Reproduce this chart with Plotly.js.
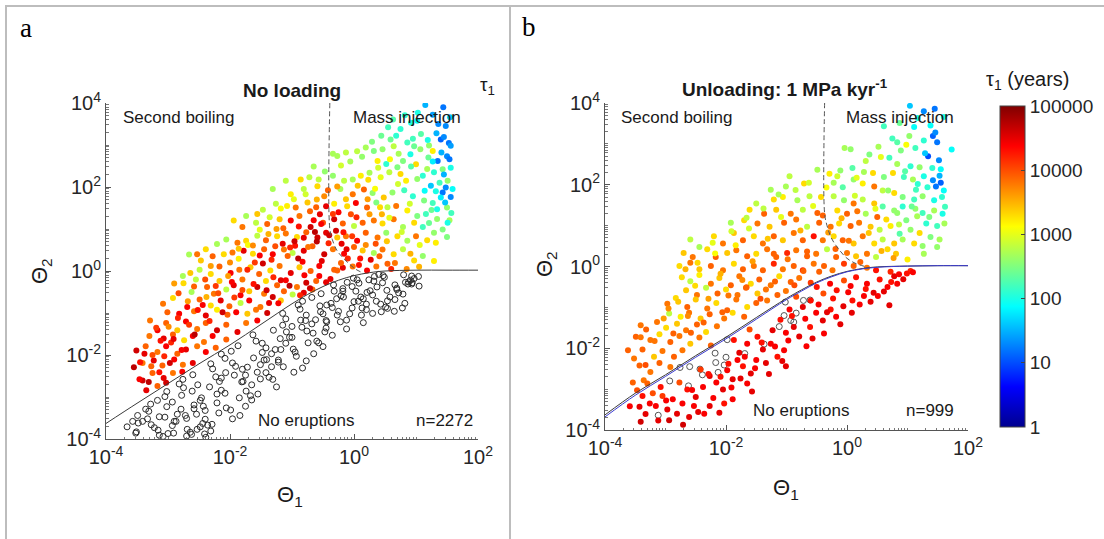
<!DOCTYPE html>
<html><head><meta charset="utf-8">
<script src="https://cdn.plot.ly/plotly-3.0.1.min.js"></script>
<style>html,body{margin:0;padding:0;background:#fff;}#chart{width:1104px;height:539px;}</style>
</head><body><div id="chart"></div>
<script>
// ---- DATA (log10 values) ----
// Panel a: erupting runs (coloured by log10 tau1)
const aLogTheta1 = [1.15,1.44,1.36,1.55,1.03,0.92,0.55,0.75,1.08,1.40,1.53,1.45,0.68,0.59,0.86,1.21,1.27,1.50,1.35,1.54,1.07,0.91,0.79,0.64,0.46,0.32,0.19,0.05,-0.13,-0.27,-0.34,0.38,0.52,0.70,1.00,1.18,1.29,1.43,1.56,1.51,1.38,1.48,1.43,1.56,1.59,1.32,1.24,1.14,1.02,0.84,0.75,0.57,0.43,0.25,0.11,-0.02,-0.16,-0.34,-0.65,-0.72,-0.86,-1.10,-1.31,-1.02,-0.81,-0.59,-0.42,-0.22,-0.02,0.16,0.30,0.48,0.62,0.81,0.95,1.13,1.27,1.50,1.57,1.54,1.51,1.34,1.16,1.02,0.86,0.68,0.54,0.36,0.21,0.03,-0.11,-0.32,-0.45,-0.61,-0.75,-0.94,-1.08,-1.26,-1.47,-1.56,-1.74,-1.94,-1.80,-1.58,-1.40,-1.20,-1.02,-0.88,-0.65,-0.50,-0.32,-0.18,0.00,0.14,0.32,0.46,0.64,0.79,0.97,1.11,1.29,1.43,1.50,1.32,1.18,1.00,0.86,0.70,0.52,0.38,0.19,0.05,-0.13,-0.27,-0.45,-0.59,-0.77,-0.92,-1.10,-1.24,-1.42,-1.56,-1.74,-1.88,-2.06,-2.21,-2.39,-2.53,-2.66,-2.47,-2.28,-2.10,-1.96,-1.78,-1.63,-1.45,-1.31,-1.13,-0.99,-0.81,-0.67,-0.48,-0.34,-0.16,0.00,0.14,0.32,0.46,0.64,0.79,0.97,1.11,1.29,0.54,0.36,0.21,-0.02,-0.18,-0.32,-0.56,-0.70,-0.88,-1.02,-1.20,-1.35,-1.53,-1.67,-1.85,-1.99,-2.17,-2.31,-2.49,-2.64,-2.76,
-2.75,-2.55,-2.37,-2.17,-1.94,-1.80,-1.56,-1.42,-1.24,-1.10,-0.92,-0.77,-0.61,-0.45,-2.62,-2.26,-2.06,-1.83,-1.69,-1.45,-1.31,-1.13,-0.99,-0.81,-0.67,-3.08,-2.92,-2.69,-2.49,-2.31,-2.15,-2.01,-1.83,-1.69,-1.51,-1.37,-1.18,-3.01,-2.82,-2.58,-2.39,-2.21,-2.04,-1.90,-1.72,-1.58,-1.40,-3.29,-3.17,-3.03,-2.85,-2.71,-2.53,-2.39,-2.21,-2.06,-1.88,-1.74,-1.56,-3.30,-3.07,-2.92,-2.74,-2.60,-2.42,-2.28,-2.06,-3.51,-3.36,-3.17,-3.03,-2.85,-2.71,-2.53,-2.39,-2.23,-3.55,-3.41,-3.23,-3.09,-2.90,-2.76,-2.60,-3.41,-3.25,-3.07,-2.92,-2.77,-3.35,-3.17,-3.03,
-0.90,-0.60,-0.40,-0.55,-0.25,-0.70,-1.15,-0.95,-0.20,-0.10,0.10,0.35,0.60,0.85,1.05,0.25,0.90,1.25,1.40,1.45,1.20,0.95,-1.60,-2.00,-2.40,-2.90,-1.30,-0.80,-1.80,-2.95,-3.25,-1.25,-0.05,0.45,-0.60,
-1.47,-1.33,-1.18,-1.07,-0.96,-0.83,-0.74,-0.63,-0.52,-0.41,-0.29,-0.21,-0.12,-0.03,0.08,0.19,0.27,0.41,0.53,0.66,-1.62,-1.41,-1.22,-1.04,-0.87,-0.71,-0.56,-0.38,-0.27,-1.93,-2.12,-2.33,-2.57,-2.78,-2.97,-3.14,-3.31,-3.46,-3.27,-3.12,-2.99,-2.84,-2.68,-2.52,-2.38,-2.23,-2.03,-1.86,-1.71,-1.52,-1.36,-1.18,-0.97,-0.78,-0.57,-0.47,-0.21,-0.06,0.13,0.29,0.44,0.63,0.82,1.02,1.27,1.48,1.33,1.19,0.97,0.72,0.58,0.39,0.23,0.06,-0.27,-0.48,-0.71,-0.89,-1.14,-1.38,-1.63,-1.86,-2.31,-2.58,-2.83,-3.19,-3.38,-0.13,0.34,0.71,0.92,1.11,1.27,1.41,1.56,1.47,1.34,1.21,1.06,0.91,0.77,0.57,0.42,0.22,0.04,-0.17,-0.34,-0.53,-0.81,-1.03,-1.27,-1.52,-1.72,-1.97,-2.19,-2.44,-2.66,-2.91,-3.06,-3.45];
const aLogTheta2 = [3.95,3.90,3.50,3.66,3.77,3.53,3.42,3.38,3.26,3.13,3.05,3.19,3.22,3.13,3.06,2.99,2.86,2.73,2.62,2.66,2.90,2.78,2.62,2.97,2.90,2.86,2.94,2.85,2.82,2.74,2.79,2.62,2.55,2.47,2.54,2.43,2.35,2.42,2.46,2.15,2.10,1.99,1.87,1.76,1.95,1.90,2.03,1.91,2.19,2.15,2.31,2.35,2.23,2.34,2.27,2.18,2.15,2.27,2.49,2.23,2.18,2.15,1.95,1.83,1.95,2.02,1.92,1.95,1.83,1.94,1.86,1.75,1.87,1.92,1.78,1.68,1.62,1.51,1.38,1.21,1.15,1.24,1.36,1.31,1.44,1.55,1.52,1.63,1.51,1.62,1.54,1.60,1.54,1.52,1.63,1.51,1.55,1.60,1.46,1.36,1.31,1.20,1.05,1.15,1.12,1.23,1.20,1.31,1.21,1.15,1.23,1.13,1.07,1.15,1.20,1.13,1.23,1.05,1.15,1.05,0.91,0.99,0.81,0.67,0.73,0.83,0.72,0.83,0.91,0.80,0.91,0.72,0.83,0.80,0.91,0.80,0.92,0.81,0.89,0.83,0.73,0.84,0.72,0.67,0.75,0.64,0.52,0.40,0.39,0.25,0.35,0.40,0.44,0.48,0.41,0.52,0.40,0.51,0.43,0.48,0.59,0.40,0.52,0.41,0.57,0.49,0.43,0.51,0.40,0.52,0.25,0.36,0.24,0.17,0.11,0.01,0.11,0.08,0.03,0.12,0.00,0.09,-0.05,0.12,0.01,-0.07,0.09,0.03,-0.05,0.11,-0.07,0.03,-0.05,-0.12,
-0.29,-0.20,-0.38,-0.24,-0.34,-0.20,-0.38,-0.24,-0.34,-0.22,-0.38,-0.28,-0.24,-0.27,-0.50,-0.54,-0.44,-0.58,-0.48,-0.54,-0.62,-0.48,-0.56,-0.52,-0.44,-0.78,-0.64,-0.86,-0.68,-0.82,-0.70,-0.84,-0.76,-0.70,-0.86,-0.76,-0.70,-0.98,-1.02,-0.96,-1.06,-0.92,-1.04,-0.98,-1.02,-0.92,-1.00,-1.18,-1.41,-1.24,-1.41,-1.20,-1.38,-1.24,-1.41,-1.28,-1.45,-1.24,-1.18,-1.55,-1.61,-1.51,-1.65,-1.55,-1.69,-1.55,-1.63,-1.89,-1.79,-1.93,-1.79,-1.97,-1.87,-1.79,-1.93,-1.83,-2.29,-2.19,-2.13,-2.25,-2.11,-2.23,-2.19,-2.61,-2.43,-2.55,-2.43,-2.40,-2.84,-2.74,-2.66,
0.30,0.70,0.85,1.35,1.40,1.05,0.65,0.60,0.65,0.30,0.30,0.65,0.05,0.05,0.10,1.35,1.60,1.45,1.75,2.30,2.70,3.15,0.20,0.20,-0.20,-0.30,-0.15,-0.10,-0.45,-1.70,-2.00,1.00,1.35,1.35,1.70,
0.18,0.27,-0.22,0.36,0.71,0.22,0.57,0.93,0.24,0.66,0.96,0.19,0.52,0.83,0.14,0.62,0.27,0.35,0.71,0.19,-0.31,-0.46,-0.77,-0.35,-0.58,-0.41,-0.12,-0.19,0.01,-0.63,-0.98,-1.19,-1.51,-1.88,-2.19,-2.41,-2.64,-2.58,-2.27,-1.66,-1.33,-1.12,-0.72,-0.93,-0.62,-0.36,-0.12,0.29,0.62,0.98,1.28,1.49,1.71,1.83,2.18,2.37,2.51,2.61,2.72,3.08,3.22,3.61,3.71,3.58,3.72,3.45,3.28,3.12,2.97,2.79,2.66,2.46,2.17,2.03,2.01,1.78,1.42,1.06,1.02,0.88,0.61,0.53,0.12,-0.37,-0.53,-1.35,-1.97,1.71,1.96,2.07,2.49,2.27,2.61,2.82,2.98,1.63,1.47,1.14,0.62,0.41,0.93,1.27,1.52,1.71,1.28,0.92,1.36,1.12,0.79,0.56,0.59,0.37,0.03,-0.26,-0.53,-0.81,-1.28,-1.62,-2.03,-2.17];
const aLogTau = [1.5,1.2,1.3,1.6,2.0,2.0,2.2,2.1,2.3,1.1,1.2,1.3,2.1,2.4,2.2,2.6,3.2,1.3,1.2,1.2,2.6,2.0,2.5,2.8,2.6,2.5,2.7,2.8,2.8,2.7,2.7,3.2,2.1,2.5,3.3,2.7,2.1,2.5,2.0,2.6,2.2,1.3,1.2,1.3,1.9,2.0,1.6,1.9,2.6,3.2,3.3,2.8,3.0,2.7,3.2,2.7,2.8,2.6,2.7,2.8,3.3,2.8,2.7,3.2,2.8,3.3,3.9,2.7,3.8,3.9,2.6,3.4,2.6,2.2,2.1,2.5,2.2,2.6,2.2,2.7,2.0,2.6,2.2,2.5,3.2,3.8,2.8,2.5,3.9,4.4,3.3,3.2,4.5,3.9,3.4,3.8,3.2,2.8,2.8,3.4,2.7,3.3,3.8,2.8,3.9,3.4,4.4,3.8,4.4,4.0,4.6,3.9,2.8,3.9,3.8,3.3,3.8,2.7,3.3,2.2,2.6,2.5,2.5,3.2,3.3,3.8,2.7,3.3,2.6,3.8,3.9,4.4,3.8,3.4,4.5,4.6,3.9,3.3,3.8,3.3,3.9,2.8,3.3,3.8,2.7,2.7,3.3,3.8,2.7,3.4,3.9,3.3,3.8,4.5,3.3,3.9,4.4,3.8,2.8,4.5,3.9,4.6,3.8,4.4,3.9,3.4,2.7,3.8,3.3,2.8,3.3,2.6,3.2,3.9,3.8,4.4,3.8,4.5,3.9,4.4,3.9,3.4,4.5,3.8,3.3,3.9,3.4,3.8,4.4,3.9,3.3,2.8,3.4,2.7,
3.3,2.8,3.9,3.4,4.5,3.8,4.6,3.3,3.9,4.4,3.8,4.6,3.9,4.5,2.7,3.8,2.8,4.4,3.4,3.8,4.6,3.9,2.8,4.5,3.9,3.8,3.3,4.4,3.9,3.3,4.5,3.9,2.8,4.4,3.8,4.5,3.4,3.9,4.4,3.8,4.5,3.2,3.9,4.4,3.4,3.8,4.6,3.8,4.4,3.9,3.4,4.4,3.8,3.9,4.6,3.9,4.5,3.8,4.4,3.8,4.5,3.9,3.3,4.4,3.8,4.4,3.9,4.6,3.9,3.8,4.4,3.9,4.5,3.8,4.4,3.9,4.7,3.8,4.5,3.9,4.4,3.8,4.5,4.6,3.9,4.5,3.8,4.4,4.5,3.9,4.6,
4.7,4.7,4.6,4.5,4.4,4.6,4.5,4.3,4.5,4.2,4.3,4.0,4.2,3.7,3.5,3.6,2.9,2.4,1.8,1.5,2.4,2.2,4.1,3.7,4.0,3.6,4.2,4.4,4.0,4.2,4.0,3.6,4.0,3.5,3.5,
4.6,4.2,4.5,3.9,4.6,4.4,3.8,4.7,4.5,4.2,4.6,3.9,4.5,4.1,4.3,3.7,4.5,3.9,3.4,3.8,4.3,4.6,4.4,4.7,4.2,4.6,4.4,4.5,3.9,4.1,4.6,4.2,4.7,4.4,4.6,4.3,4.7,4.4,3.9,4.3,3.7,4.2,3.6,4.3,3.5,4.1,3.6,3.2,3.1,3.0,2.9,3.1,3.0,2.9,2.8,2.6,2.9,2.7,2.6,2.5,2.4,2.3,2.1,1.9,1.4,1.3,1.5,2.0,2.4,2.7,3.1,2.9,3.3,3.4,3.6,3.7,3.9,4.3,3.9,3.5,3.7,3.4,3.6,3.9,4.0,4.1,4.5,3.4,3.1,2.9,2.3,2.1,1.8,1.5,1.4,1.6,2.0,2.4,3.0,3.5,2.9,3.0,3.3,3.6,4.2,4.3,4.1,4.4,4.5,4.2,4.0,4.4,4.2,4.4,4.0,4.4,4.1,4.5,4.2,4.3];
// Panel a: runs with no eruption (open circles)
const aLogTheta1None = [-3.57,-3.66,-3.49,-3.36,-3.48,-3.51,-3.28,-3.33,-3.14,-3.31,-3.17,-3.27,-3.14,-3.05,-3.16,-3.02,-2.90,-3.02,-3.08,-2.85,
-2.93,-2.75,-2.93,-2.79,-2.91,-2.78,-2.70,-2.82,-2.69,-2.58,-2.70,-2.76,-2.54,-2.61,-2.44,-2.62,-2.48,-2.60,-2.48,-2.40,
-2.52,-2.39,-2.28,-2.40,-2.46,-2.23,-2.31,-2.14,-2.31,-2.18,-2.29,-2.17,-2.08,-2.21,-2.07,-1.96,-2.08,-2.14,-1.91,-1.99,
-1.81,-1.98,-1.85,-1.96,-1.84,-1.75,-1.87,-1.74,-1.62,-1.75,-1.80,-1.58,-1.65,-1.48,-1.65,-1.51,-1.63,-1.51,-1.42,-1.55,
-1.41,-1.30,-1.42,-1.48,-1.25,-1.33,-1.15,-1.33,-1.19,-1.31,-1.18,-1.10,-1.22,-1.09,-0.97,-1.10,-1.15,-0.93,-1.00,-0.83,
-1.00,-0.87,-0.98,-0.86,-0.77,-0.90,-0.76,-0.65,-0.77,-0.83,-0.60,-0.68,-0.50,-0.68,-0.54,-0.66,-0.53,-0.45,-0.57,-0.44,
-0.32,-0.45,-0.50,-0.28,-0.35,-0.18,-0.35,-0.22,-0.33,-0.21,-0.12,-0.25,-0.11,0.00,-0.12,-0.18,0.05,-0.03,0.15,-0.03,
0.11,-0.01,0.12,0.20,0.08,0.21,0.33,0.20,0.15,0.37,0.30,0.47,0.30,0.43,0.32,0.44,0.53,0.40,0.54,0.66,
0.54,0.49,0.72,0.65,0.83,0.66,0.80,0.69,0.82,0.91,0.79,0.93,1.05,0.93,0.88,1.04,0.94,-2.53,-2.64,-2.41,
-3.52,-3.41,-3.22,-3.05,-2.87,-2.72,-2.58,-2.43,-2.33,-2.21,-2.06,-1.93,-1.79,-1.67,-1.56,-1.45,-1.37,-1.27,-1.14,-1.04,-0.95,-0.84,-0.74,-0.62,-0.55,-0.44,-0.37,-0.27,-0.17,-0.07,0.03,0.13,0.26,0.36,0.46,0.58,0.69,0.78,0.87,0.97,
-3.00,-2.36,-2.14,-1.72,-1.22,-0.78,-0.47,0.07,0.51,0.24];
const aLogTheta2None = [-3.58,-3.71,-3.44,-3.29,-3.62,-3.83,-3.17,-3.52,-3.91,-3.34,-3.08,-3.66,-3.47,-2.99,-3.79,-3.23,-3.58,-2.87,-3.94,-3.41,
-3.12,-2.78,-3.68,-3.29,-3.86,-2.96,-3.51,-2.69,-3.77,-3.19,-3.93,-2.58,-3.41,-2.86,-3.63,-3.89,-3.08,-2.47,-3.71,-3.32,
-2.71,-3.96,-2.33,-3.53,-3.02,-2.52,-3.81,-2.84,-2.21,-3.38,-3.65,-2.63,-2.08,-3.14,-2.42,-3.52,-2.91,-1.98,-2.27,-3.31,
-2.64,-1.91,-3.02,-2.19,-3.44,-2.48,-1.78,-2.86,-2.07,-3.22,-2.34,-1.67,-2.71,-1.94,-3.07,-2.23,-1.52,-2.57,-1.83,-2.93,
-2.11,-1.41,-2.42,-1.72,-2.76,-1.97,-1.29,-2.28,-1.61,-2.58,-1.87,-1.14,-2.17,-1.45,-2.41,-1.72,-1.01,-2.03,-1.32,-2.31,
-1.58,-0.91,-1.86,-1.17,-2.14,-0.81,-1.43,-1.97,-1.05,-0.72,-1.67,-1.26,-1.80,-0.63,-0.97,-1.48,-0.54,-1.18,-1.71,-0.81,
-0.48,-1.36,-1.02,-0.66,-1.53,-0.42,-0.87,-1.21,-0.33,-0.59,-1.38,-0.96,-0.27,-0.73,-1.17,-0.48,-0.21,-0.88,-1.23,-0.37,
-0.62,-0.17,-1.05,-0.79,-0.29,-0.51,-0.13,-0.92,-0.66,-0.38,-1.01,-0.11,-0.57,-0.79,-0.24,-0.97,-0.46,-0.08,-0.71,-0.33,
-0.89,-0.15,-0.52,-0.96,-0.27,-0.68,-0.09,-0.41,-0.77,-0.22,-0.55,-0.12,-0.36,-0.31,-0.26,-0.13,-0.28,-3.77,-3.84,-3.88,
-3.86,-3.58,-3.73,-3.48,-3.58,-3.44,-3.28,-3.22,-2.76,-2.93,-3.26,-2.48,-2.63,-2.97,-2.41,-2.12,-2.53,-1.87,-2.28,-1.58,-1.93,-1.34,-1.71,-1.16,-0.83,-1.21,-0.77,-1.05,-0.62,-1.02,-0.48,-0.88,-0.47,-0.72,-0.28,-0.62,-0.44,-0.88,-0.31,-0.18,
-3.87,-3.67,-2.55,-2.29,-2.12,-1.18,-1.45,-0.72,-0.86,-0.21];
// Panel b: erupting runs
const bLogTheta1 = [1.04,1.27,1.45,1.60,0.61,0.87,1.17,1.38,1.42,1.49,1.73,0.75,1.03,1.27,1.34,1.52,0.98,0.89,1.13,-0.04,0.06,0.37,0.56,0.70,0.83,1.05,1.20,1.41,1.55,-0.49,-0.29,-0.11,0.09,0.28,0.43,0.61,0.76,0.94,1.09,1.27,1.42,1.55,1.60,1.47,1.33,1.14,-0.95,-0.71,-1.01,-0.22,-0.07,0.11,0.26,0.45,0.59,0.78,0.92,1.11,1.25,1.44,1.57,-1.26,-1.50,-1.21,-1.06,-0.82,-0.62,-0.43,-0.22,-0.05,0.11,0.26,0.45,0.59,0.78,0.92,1.13,1.25,1.44,1.58,-1.61,-1.37,-1.17,-0.93,-0.73,-0.49,-0.40,-0.16,0.00,0.17,0.31,0.50,0.65,0.83,0.98,1.16,1.31,1.49,1.61,-1.92,-1.70,-1.48,-1.28,-1.04,-0.84,-0.66,-0.46,-0.27,-0.13,0.06,0.20,0.39,0.54,0.72,0.87,1.05,1.20,1.38,1.53,-2.59,-2.44,-2.20,-2.05,-1.87,-1.72,-1.54,-1.39,-1.21,-1.06,-0.88,-0.73,-0.55,-0.40,-0.22,-0.07,0.11,0.26,0.45,0.59,0.78,0.92,1.11,1.25,1.49,-2.70,-2.55,-2.31,-2.17,-1.98,-1.83,-1.65,-1.50,-1.32,-1.17,-0.99,-0.84,-0.66,-0.51,-0.33,-0.18,0.00,0.15,0.33,0.48,0.67,0.81,1.00,1.27,-2.77,-2.59,-2.44,-2.25,-2.05,-1.87,-1.72,-1.54,-1.39,-1.21,-1.06,-0.88,-0.73,-0.55,-0.38,-0.24,-0.05,0.11,0.33,0.48,0.72,1.05,
-2.73,-2.59,-2.44,-2.25,-2.11,-1.92,-1.78,-1.59,-1.45,-1.26,-1.12,-0.93,-0.79,-0.60,-2.66,-2.48,-2.33,-2.14,-2.00,-1.81,-1.67,-1.48,-1.34,-1.15,-1.01,-2.97,-2.83,-2.64,-2.50,-2.31,-2.16,-1.98,-1.83,-1.65,-1.50,-1.32,-2.94,-2.75,-2.61,-2.42,-2.27,-2.03,-1.89,-1.70,-3.41,-3.32,-3.14,-2.99,-2.81,-2.66,-2.48,-2.33,-2.15,-3.49,-3.25,-3.10,-2.92,-2.77,-2.59,-2.44,-2.25,-3.52,-3.38,-3.19,-3.05,-2.86,-2.72,-3.43,-3.25,-3.10,-2.92,-3.36,
-0.50,-0.39,-0.28,-0.17,-0.05,0.06,0.15,0.33,0.44,0.54,0.67,0.78,0.99,0.83,0.70,0.28,0.09,-0.06,-0.18,-0.27,-0.40,-0.51,-0.60,-0.73,-0.84,-0.95,-0.88,-1.01,-1.10,-1.23,-1.26,-1.39,-1.48,-1.61,-1.65,-1.78,-1.87,-1.81,-1.04,-1.01,-1.15,-1.34,-1.50,-1.59,-1.72,-1.65,-1.89,-1.98,-2.05,-2.16,-2.09,-2.27,-2.38,-2.42,-2.50,-2.53,-2.61,-2.64,-2.72,-2.77,-2.81,-2.88,-2.94,-2.97,-3.05,-3.08,-3.16,-3.21,-3.26,-3.30,-3.38,-3.43,-3.47,-3.54,-3.41,-1.89,-2.03,-2.27,-2.36,-0.67,-0.61,-0.38,
-3.62,-3.33,-3.18,-3.03,-2.87,-2.79,-2.63,-2.51,-2.37,-2.29,-2.18,-2.09,-1.96,-1.84,-1.73,-1.62,-1.56,-1.43,-1.31,-1.19,-1.09,-0.98,-0.87,-0.77,-0.66,-0.56,-0.46,-0.31,-0.19,-0.09,0.03,0.13,0.22,0.36,0.47,0.57,0.68,0.77,0.86,0.96,1.07,1.17,1.29,1.36,1.46,1.53,1.62,1.11,0.83,0.52,0.31,0.16,-0.16,-0.34,-0.63,-0.85,-1.13,-1.38,-1.66,-1.91,-2.22,-2.47,-2.67,-2.95,-3.41,-0.72,-1.21,-1.66,-2.06,-2.58,
-3.59,-3.33,-3.12,-2.99,-2.71,-2.56,-2.46,-2.29,-2.21,-2.11,-1.96,-1.91,-1.76,-1.69,-1.57,-1.52,-1.41,-1.29,-1.19,-1.07,-0.97,-0.91,-0.79,-0.69,-0.57,-0.47,-0.33,-0.23,-0.11,0.02,0.08,0.21,0.31,0.39,0.51,0.61,0.73,0.86,0.93,1.09];
const bLogTheta2 = [3.93,3.80,3.86,3.66,3.43,3.51,3.63,3.45,3.19,3.04,2.86,3.13,3.19,3.08,2.70,2.60,2.98,2.84,2.90,2.90,2.87,2.74,2.68,2.66,2.51,2.45,2.43,2.41,2.38,2.37,2.27,2.35,2.41,2.31,2.29,2.19,2.29,2.19,2.13,2.21,2.11,2.05,1.86,1.96,1.94,1.88,2.21,2.03,1.96,2.05,1.94,2.13,2.03,1.96,1.86,1.80,1.70,1.64,1.72,1.62,1.70,1.88,1.54,1.64,1.70,1.62,1.72,1.70,1.72,1.62,1.54,1.64,1.54,1.47,1.37,1.47,1.41,1.31,1.37,1.29,1.39,1.29,1.39,1.29,1.39,1.31,1.25,1.37,1.29,1.35,1.29,1.21,1.15,1.31,1.13,1.23,1.05,0.99,1.05,1.07,1.13,1.05,0.97,1.07,1.15,0.97,1.07,0.97,1.05,0.99,1.07,0.97,0.90,0.99,0.80,0.90,0.82,0.72,0.66,0.66,0.48,0.74,0.56,0.82,0.64,0.74,0.56,0.74,0.64,0.82,0.64,0.74,0.64,0.74,0.64,0.56,0.74,0.56,0.66,0.56,0.66,0.56,0.50,0.48,0.33,0.23,0.42,0.23,0.33,0.40,0.25,0.31,0.42,0.23,0.33,0.40,0.25,0.31,0.42,0.23,0.33,0.25,0.31,0.23,0.42,0.31,0.17,0.31,0.01,0.09,-0.07,0.01,-0.09,0.07,-0.07,0.01,-0.09,0.07,-0.07,0.01,-0.09,0.07,0.01,-0.09,0.07,0.01,-0.03,-0.09,-0.13,-0.11,
-0.26,-0.36,-0.21,-0.42,-0.28,-0.46,-0.24,-0.42,-0.32,-0.46,-0.24,-0.38,-0.28,-0.40,-0.58,-0.70,-0.52,-0.66,-0.56,-0.70,-0.52,-0.66,-0.56,-0.70,-0.60,-0.91,-0.77,-0.99,-0.81,-1.03,-0.89,-1.07,-0.81,-0.99,-0.89,-0.83,-1.15,-1.23,-1.13,-1.27,-1.17,-1.27,-1.13,-1.23,-1.44,-1.54,-1.36,-1.50,-1.40,-1.56,-1.42,-1.60,-1.46,-1.72,-1.80,-1.66,-1.85,-1.70,-1.89,-1.74,-1.93,-2.25,-2.03,-2.21,-2.07,-2.21,-2.05,-2.42,-2.58,-2.36,-2.46,-2.78,
-0.50,-0.66,-0.42,-0.58,-0.34,-0.48,-0.26,-0.42,-0.64,-0.32,-0.50,-0.24,-0.17,-0.42,-0.95,-0.72,-0.83,-0.97,-1.23,-1.05,-1.32,-1.13,-0.83,-0.99,-0.74,-1.05,-1.48,-1.62,-1.30,-1.56,-1.89,-2.03,-1.72,-1.54,-1.89,-2.11,-1.80,-2.29,-2.05,-2.44,-2.21,-2.36,-2.29,-2.62,-2.44,-2.86,-2.76,-2.54,-3.01,-2.84,-2.70,-2.68,-2.95,-2.52,-3.19,-3.41,-3.68,-3.01,-3.35,-2.84,-3.60,-3.25,-3.76,-3.50,-3.17,-2.95,-3.41,-3.10,-3.35,-2.86,-3.17,-3.43,-3.03,-2.84,-3.80,-3.25,-3.35,-3.41,-3.60,-1.95,-1.48,-1.64,
-2.05,-2.41,-1.82,-1.27,-1.64,-0.86,-1.21,-0.47,-1.37,-0.79,0.32,-0.18,-0.71,0.52,-0.33,0.93,0.13,-0.79,0.68,-0.37,1.21,0.18,-0.46,0.88,0.37,1.48,-0.13,0.83,0.43,1.18,0.63,1.73,0.11,0.82,1.41,0.38,1.86,0.21,1.03,2.33,1.47,2.02,2.77,1.21,3.28,2.22,1.46,3.41,3.04,2.93,2.58,2.17,2.21,1.93,2.05,1.87,1.76,1.42,1.19,0.86,0.58,0.09,-0.07,-1.03,-1.73,-0.11,0.31,-0.51,-1.12,-1.62,
-3.42,-3.61,-3.77,-3.28,-3.87,-3.02,-3.56,-2.63,-3.22,-3.58,-2.38,-2.96,-2.74,-2.21,-3.06,-2.49,-1.86,-2.63,-1.96,-2.31,-1.81,-1.21,-1.71,-1.28,-1.76,-0.93,-1.12,-0.78,-1.41,-0.63,-1.13,-0.93,-0.55,-0.86,-0.72,-0.61,-0.38,-0.19,-0.31,-0.14];
const bLogTau = [1.6,1.3,1.2,2.0,2.2,2.4,2.0,1.9,1.1,1.2,1.9,2.2,2.6,2.1,1.0,1.3,3.1,2.5,2.2,2.7,2.6,2.5,3.0,2.2,2.7,2.1,2.6,2.1,1.9,2.7,3.2,2.6,2.3,2.7,3.3,2.5,3.3,2.2,2.7,2.0,1.3,1.1,1.9,1.2,2.1,2.2,2.8,3.3,2.7,2.7,2.3,2.6,3.2,3.8,2.8,3.3,2.5,2.2,2.6,2.0,2.1,2.7,2.8,3.3,3.2,2.7,2.8,3.3,2.8,2.6,3.8,2.8,3.4,2.3,2.6,2.1,2.6,2.2,2.7,2.0,3.3,3.9,3.4,3.8,2.8,3.9,3.9,3.3,3.9,3.8,2.7,3.9,3.3,2.6,2.5,2.7,2.1,2.2,2.7,2.7,3.3,3.8,3.4,3.9,3.8,2.8,3.9,3.8,3.3,3.9,3.8,3.4,2.8,3.2,2.3,2.6,3.3,2.5,2.7,2.8,2.7,3.3,3.8,3.4,3.9,3.3,3.8,3.9,3.4,3.8,3.9,4.3,3.8,3.3,3.9,3.4,3.8,3.3,2.8,3.4,2.7,3.3,2.6,2.6,3.4,3.8,3.3,3.9,3.4,3.8,3.9,3.3,3.8,3.9,4.2,3.8,3.9,3.8,2.8,3.9,3.8,3.4,3.8,2.8,3.3,3.4,3.2,2.7,3.3,3.8,3.4,3.9,3.8,3.3,3.9,3.8,3.9,4.2,3.8,3.9,4.2,3.8,3.9,3.8,4.1,3.9,3.8,4.3,4.2,4.2,
3.3,2.8,3.2,3.8,3.4,3.9,3.8,3.3,3.9,3.8,3.3,3.9,3.8,4.1,3.4,3.8,2.8,3.9,3.3,3.8,3.9,3.4,3.8,3.9,3.8,3.8,3.3,3.9,3.4,3.8,3.3,3.9,3.8,3.3,3.9,3.8,2.8,3.2,3.8,3.4,3.9,3.8,3.3,3.9,3.8,3.9,3.8,3.3,3.4,3.8,3.9,3.3,3.8,3.9,3.8,3.3,3.9,3.8,3.4,3.8,3.9,3.8,3.9,3.4,3.8,3.9,3.8,3.9,3.8,3.9,3.8,3.8,
4.3,4.0,4.4,4.3,4.0,4.4,4.3,4.4,4.5,4.3,4.4,4.5,4.3,4.4,4.5,4.4,4.3,4.5,4.4,4.3,4.5,4.4,4.3,4.5,4.0,4.4,4.5,4.4,4.3,4.5,4.4,4.5,4.3,4.0,4.4,4.5,4.3,4.4,4.4,4.5,4.3,4.5,4.4,4.5,4.3,4.4,4.5,4.4,4.5,4.4,4.3,4.5,4.4,4.1,4.5,4.4,4.5,4.3,4.4,4.0,4.5,4.4,4.6,4.5,4.1,4.3,4.4,4.0,4.4,3.9,4.3,4.5,4.0,3.9,4.6,4.4,4.3,4.5,4.4,4.4,4.3,4.4,
3.9,4.0,3.8,3.6,3.9,3.4,3.7,3.3,3.9,3.6,3.1,3.5,3.8,3.2,3.7,2.9,3.6,4.0,3.4,3.9,3.0,3.8,4.0,3.5,3.9,3.0,3.9,3.6,3.9,3.5,3.8,2.9,3.9,3.4,3.0,3.5,2.6,3.6,2.8,2.3,2.4,2.1,1.6,2.5,1.3,1.5,2.2,1.9,2.3,2.7,2.8,3.0,2.9,3.1,2.9,2.8,2.7,2.8,2.8,2.9,3.0,3.3,3.5,3.7,3.8,3.9,3.9,3.9,3.9,3.9,
4.4,4.5,4.5,4.4,4.6,4.4,4.5,4.3,4.4,4.5,4.3,4.4,4.5,4.4,4.5,4.4,4.3,4.5,4.4,4.5,4.4,4.3,4.5,4.4,4.5,4.4,4.5,4.3,4.5,4.4,4.5,4.4,4.3,4.5,4.4,4.5,4.3,4.4,4.5,4.4];
// Panel b: runs with no eruption
const bLogTheta1None = [-2.76,-2.62,-2.93,-3.12,-2.43,-2.39,-2.18,-2.17,-2.13,-2.00,-2.03,-1.98,-1.69,-1.37,-1.12,-1.04,-0.93,-0.88,-0.84,-1.02,-0.72,-0.61,-2.60];
const bLogTheta2None = [-2.47,-2.92,-2.80,-3.64,-2.51,-2.65,-2.12,-2.35,-2.59,-2.22,-2.41,-1.79,-2.13,-1.90,-1.47,-1.20,-1.32,-1.36,-1.14,-0.87,-0.83,-0.82,-2.45];
// Eruption threshold curves and regime boundaries
const curveLogTheta1 = [-4,-3.5,-3,-2.5,-2,-1.5,-1,-0.75,-0.5,-0.25,0,0.25,0.5,1,1.5,2];
const aCurveLogTheta2 = [-3.63,-3.15,-2.68,-2.21,-1.76,-1.27,-0.78,-0.56,-0.37,-0.22,-0.11,-0.04,0,0.02,0.02,0.02];
const bCurveLogTheta2 = [-3.63,-3.10,-2.65,-2.18,-1.73,-1.25,-0.78,-0.57,-0.38,-0.23,-0.12,-0.05,-0.01,0.01,0.02,0.02];
const bBlueLogTheta2 = [-3.68,-3.15,-2.69,-2.22,-1.77,-1.29,-0.81,-0.60,-0.40,-0.25,-0.13,-0.06,-0.02,0.01,0.02,0.02];
const aDashLogTheta1 = [-0.39,-0.39,-0.35,-0.28,-0.20,-0.10,0.02,0.15];
const aDashLogTheta2 = [4,1.0,0.75,0.5,0.35,0.2,0.05,-0.05];
const bDashLogTheta1 = [-0.37,-0.37,-0.33,-0.26,-0.15,0.0,0.15,0.30];
const bDashLogTheta2 = [4,1.3,1.0,0.7,0.45,0.2,0.07,0.0];
const tauTickLog = [0,1,2,3,4,5];
const tauTickText = ['1','10','100','1000','10000','100000'];
const xTickExp = [-4,-2,0,2];
const yTickExp = [-4,-2,0,2,4];

// ---- helpers ----
const p10 = a => a.map(v => Math.pow(10, v));
const W = 1104, H = 539;
const px = x => x / W, py = y => 1 - y / H;
const FONT = 'Liberation Sans, Arial, Helvetica, sans-serif';
const jet = [[0,'rgb(0,0,143)'],[0.125,'rgb(0,0,255)'],[0.375,'rgb(0,255,255)'],[0.625,'rgb(255,255,0)'],[0.875,'rgb(255,0,0)'],[1,'rgb(128,0,0)']];

function minorVals(lo, hi, major) {
  const out = [];
  for (let d = lo; d < hi; d++) {
    if (major.indexOf(d) < 0) out.push(Math.pow(10, d));
    for (let k = 2; k <= 9; k++) out.push(k * Math.pow(10, d));
  }
  return out;
}
function logAxis(lo, hi, domain, anchor, exps) {
  return {
    type: 'log', range: [lo, hi], domain: domain, anchor: anchor,
    showline: true, linecolor: '#555', linewidth: 1, mirror: false,
    showgrid: false, zeroline: false,
    ticks: 'inside', ticklen: 5, tickwidth: 1, tickcolor: '#555',
    tickmode: 'array', tickvals: exps.map(e => Math.pow(10, e)),
    ticktext: exps.map(e => '10<sup>' + e + '</sup>'),
    tickfont: { family: FONT, size: 20, color: '#262626' },
    minor: { ticks: 'inside', ticklen: 2.5, tickwidth: 1, tickcolor: '#777', tickmode: 'array', tickvals: minorVals(lo, hi, exps), showgrid: false },
    fixedrange: true
  };
}

const MS = 6;
const traces = [
  { x: p10(aLogTheta1None), y: p10(aLogTheta2None), xaxis: 'x', yaxis: 'y', type: 'scatter', mode: 'markers',
    marker: { symbol: 'circle-open', size: 6, color: '#2b2b2b', line: { width: 1 } } },
  { x: p10(aLogTheta1), y: p10(aLogTheta2), xaxis: 'x', yaxis: 'y', type: 'scatter', mode: 'markers',
    marker: { size: MS, color: aLogTau, colorscale: jet, cmin: 0, cmax: 5, showscale: false, line: { width: 0 } } },
  { x: p10(curveLogTheta1), y: p10(aCurveLogTheta2), xaxis: 'x', yaxis: 'y', type: 'scatter', mode: 'lines',
    line: { color: '#3a3a3a', width: 1, shape: 'spline' } },
  { x: p10(aDashLogTheta1), y: p10(aDashLogTheta2), xaxis: 'x', yaxis: 'y', type: 'scatter', mode: 'lines',
    line: { color: '#555', width: 1, dash: '5px,3px', shape: 'spline' } },

  { x: p10(bLogTheta1None), y: p10(bLogTheta2None), xaxis: 'x2', yaxis: 'y2', type: 'scatter', mode: 'markers',
    marker: { symbol: 'circle-open', size: 6, color: '#555', line: { width: 1 } } },
  { x: p10(bLogTheta1), y: p10(bLogTheta2), xaxis: 'x2', yaxis: 'y2', type: 'scatter', mode: 'markers',
    marker: { size: MS, color: bLogTau, colorscale: jet, cmin: 0, cmax: 5, showscale: true, line: { width: 0 },
      colorbar: { x: px(1000), xanchor: 'left', xpad: 0, ypad: 0, y: py(266.5), yanchor: 'middle',
        len: 321 / H, lenmode: 'fraction', thickness: 25, thicknessmode: 'pixels',
        outlinewidth: 1, outlinecolor: '#444', tickmode: 'array', tickvals: tauTickLog, ticktext: tauTickText,
        ticks: 'inside', ticklen: 4, tickcolor: '#444',
        tickfont: { family: FONT, size: 19, color: '#262626' } } } },
  { x: p10(curveLogTheta1), y: p10(bCurveLogTheta2), xaxis: 'x2', yaxis: 'y2', type: 'scatter', mode: 'lines',
    line: { color: '#3a3a3a', width: 1, shape: 'spline' } },
  { x: p10(curveLogTheta1), y: p10(bBlueLogTheta2), xaxis: 'x2', yaxis: 'y2', type: 'scatter', mode: 'lines',
    line: { color: '#3b3bd0', width: 1, shape: 'spline' } },
  { x: p10(bDashLogTheta1), y: p10(bDashLogTheta2), xaxis: 'x2', yaxis: 'y2', type: 'scatter', mode: 'lines',
    line: { color: '#555', width: 1, dash: '5px,3px', shape: 'spline' } }
];

function ann(text, x, y, size, opts) {
  return Object.assign({ text: text, x: px(x), y: py(y), xref: 'paper', yref: 'paper', showarrow: false,
    xanchor: 'center', yanchor: 'middle', font: { family: FONT, size: size, color: '#1a1a1a' } }, opts || {});
}
const SERIF = 'Liberation Serif, Times New Roman, serif';
const annotations = [
  ann('a', 26, 28, 27, { font: { family: SERIF, size: 27, color: '#000' } }),
  ann('b', 529, 27, 27, { font: { family: SERIF, size: 27, color: '#000' } }),
  ann('<b>No loading</b>', 292, 90, 19),
  ann('<b>Unloading: 1 MPa kyr<sup>-1</sup></b>', 785, 88, 19),
  ann('τ<sub>1</sub>', 487, 86, 19),
  ann('τ<sub>1</sub> (years)', 1028, 80, 20),
  ann('Second boiling', 179, 117, 17),
  ann('Mass injection', 407, 117, 17),
  ann('No eruptions', 306, 420, 17),
  ann('n=2272', 444, 420, 17),
  ann('Second boiling', 677, 117, 17),
  ann('Mass injection', 900, 117, 17),
  ann('No eruptions', 801, 410, 17),
  ann('n=999', 930, 410, 17),
  ann('Θ<sub>2</sub>', 41, 271, 22, { textangle: -90 }),
  ann('Θ<sub>1</sub>', 290, 496, 22),
  ann('Θ<sub>2</sub>', 546, 264, 22, { textangle: -90 }),
  ann('Θ<sub>1</sub>', 786, 489, 22)
];

const frameLine = { type: 'line', xref: 'paper', yref: 'paper', line: { color: '#bdbdbd', width: 2 } };
const shapes = [
  Object.assign({}, frameLine, { x0: px(5), x1: 1, y0: py(6), y1: py(6) }),
  Object.assign({}, frameLine, { x0: px(6), x1: px(6), y0: py(5), y1: 0 }),
  Object.assign({}, frameLine, { x0: px(510), x1: px(510), y0: py(5), y1: 0 })
];

const layout = {
  width: W, height: H, margin: { l: 0, r: 0, t: 0, b: 0 },
  paper_bgcolor: '#fff', plot_bgcolor: 'rgba(0,0,0,0)', showlegend: false,
  xaxis: logAxis(-4, 2, [px(106), px(478)], 'y', xTickExp),
  yaxis: logAxis(-4, 4, [py(439), py(103)], 'x', yTickExp),
  xaxis2: logAxis(-4, 2, [px(605), px(968)], 'y2', xTickExp),
  yaxis2: logAxis(-4, 4, [py(430), py(103)], 'x2', yTickExp),
  annotations: annotations, shapes: shapes,
  font: { family: FONT }
};
Plotly.newPlot('chart', traces, layout, { displayModeBar: false, staticPlot: true });
</script></body></html>
